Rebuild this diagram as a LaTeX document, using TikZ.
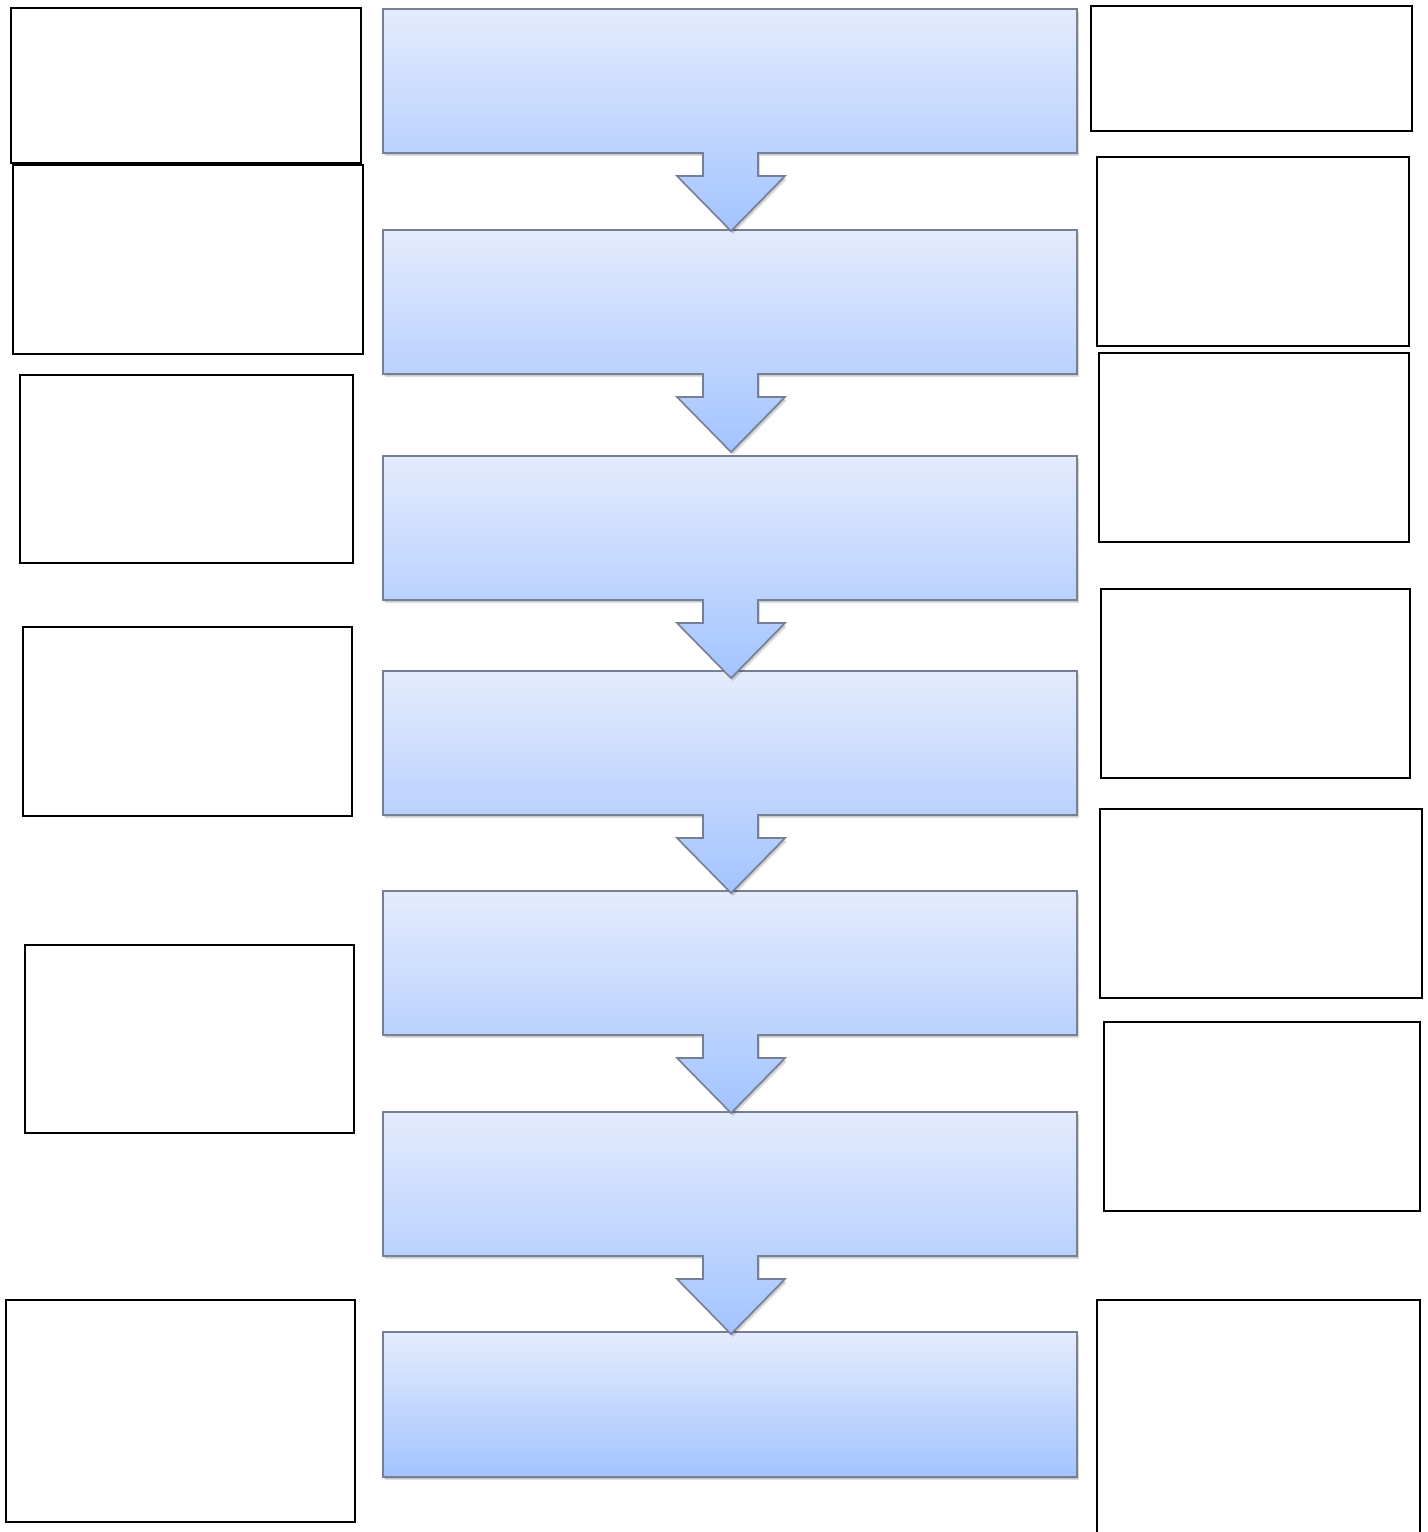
\documentclass[tikz,border=0pt]{standalone}
\usetikzlibrary{fit}
\definecolor{steptop}{RGB}{228,236,253}
\definecolor{stepbot}{RGB}{163,195,255}
\definecolor{stepline}{RGB}{118,128,148}
\tikzset{
  whitebox/.style={draw=black, line width=1pt, fill=white, inner sep=0pt},
  openbox/.style={draw=black, line width=1pt},
  stepshape/.style={draw=stepline, line width=0.8pt, top color=steptop, bottom color=stepbot},
  stepshadow/.style={fill=black, opacity=0.13}
}
\newcommand{\flowstep}[2]{%
  \def\stepshapepath{(383,#1) -- (1077,#1) -- (1077,#2) -- (758,#2) -- (758,#2+23) -- (785,#2+23) -- (731,#2+78) -- (677,#2+23) -- (703,#2+23) -- (703,#2) -- (383,#2) -- cycle}%
  \fill[stepshadow, xshift=1pt, yshift=-1.6pt] \stepshapepath;
  \fill[stepshadow, xshift=0.5pt, yshift=-0.8pt] \stepshapepath;
  \path[stepshape] \stepshapepath;
}
\begin{document}
\begin{tikzpicture}[x=0.5pt, y=-0.5pt]
\useasboundingbox (0,0) rectangle (1428,1532);
\fill[white] (0,0) rectangle (1428,1532);
% central flow (drawn bottom-up so each arrow lies over the next step)
\fill[stepshadow, xshift=1pt, yshift=-1.6pt] (383,1332) rectangle (1077,1477);
\fill[stepshadow, xshift=0.5pt, yshift=-0.8pt] (383,1332) rectangle (1077,1477);
\path[stepshape] (383,1332) rectangle (1077,1477);
\flowstep{1112}{1256}
\flowstep{891}{1035}
\flowstep{671}{815}
\flowstep{456}{600}
\flowstep{230}{374}
\flowstep{9}{153}
% left boxes
\node[whitebox, fit={(11,8) (361,163)}] (l1) {};
\node[whitebox, fit={(13,165) (363,354)}] (l2) {};
\node[whitebox, fit={(20,375) (353,563)}] (l3) {};
\node[whitebox, fit={(23,627) (352,816)}] (l4) {};
\node[whitebox, fit={(25,945) (354,1133)}] (l5) {};
\node[whitebox, fit={(6,1300) (355,1522)}] (l6) {};
% right boxes
\node[whitebox, fit={(1091,6) (1412,131)}] (r1) {};
\node[whitebox, fit={(1097,157) (1409,346)}] (r2) {};
\node[whitebox, fit={(1099,353) (1409,542)}] (r3) {};
\node[whitebox, fit={(1101,589) (1410,778)}] (r4) {};
\node[whitebox, fit={(1100,809) (1422,998)}] (r5) {};
\node[whitebox, fit={(1104,1022) (1420,1211)}] (r6) {};
\draw[openbox] (1097,1532) -- (1097,1300) -- (1420,1300) -- (1420,1532);
\end{tikzpicture}
\end{document}
